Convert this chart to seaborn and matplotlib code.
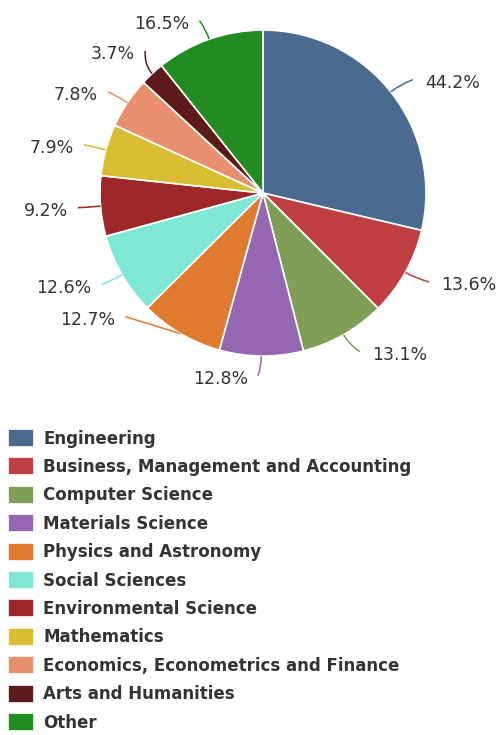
import numpy as np
import matplotlib
matplotlib.use('Agg')
import matplotlib.pyplot as plt
from matplotlib.path import Path
from matplotlib.patches import PathPatch
import seaborn as sns

# subject areas and the share labels shown on the chart
subjects = ['Engineering', 'Business, Management and Accounting', 'Computer Science',
            'Materials Science', 'Physics and Astronomy', 'Social Sciences',
            'Environmental Science', 'Mathematics', 'Economics, Econometrics and Finance',
            'Arts and Humanities', 'Other']
shares = [44.2, 13.6, 13.1, 12.8, 12.7, 12.6, 9.2, 7.9, 7.8, 3.7, 16.5]
colors = ['#4a6b8f', '#c03f40', '#7f9f56', '#9467b0', '#df7a2f', '#7fe8d4',
          '#9e2727', '#dbbd33', '#e8906e', '#5c1a1b', '#228b22']
# small angle shifts (deg) to keep labels apart
nudge = [0, 0, 0, 0, -17, 0, 0, 0, 0, -4, 0]

sns.set_theme(style='white')
plt.rcParams['font.family'] = ['DejaVu Sans']

fig = plt.figure(figsize=(4.99, 7.35), dpi=100)
ax = fig.add_axes([0.2004, 0.5156, 0.6533, 0.4435])
wedges, _ = ax.pie(shares, colors=colors, startangle=90, counterclock=False,
                   wedgeprops=dict(edgecolor='white', linewidth=1.2))
ax.set_xlim(-1, 1)
ax.set_ylim(-1, 1)
ax.axis('off')

for w, s, c, nd in zip(wedges, shares, colors, nudge):
    mid = np.deg2rad((w.theta1 + w.theta2) / 2)
    a = mid + np.deg2rad(nd)
    side = 1 if np.cos(a) > 0 else -1
    p0 = (np.cos(mid), np.sin(mid))
    p1 = (1.07 * np.cos(mid), 1.07 * np.sin(mid))
    p2 = (1.12 * np.cos(a) + side * (0.04 if side > 0 else 0.02), 1.12 * np.sin(a))
    if nd < -10:
        p1 = ((p0[0] + p2[0]) / 2, (p0[1] + p2[1]) / 2)
    path = Path([p0, p1, p2], [Path.MOVETO, Path.CURVE3, Path.CURVE3])
    ax.add_patch(PathPatch(path, fill=False, edgecolor=c, lw=1.1, clip_on=False))
    gap = 0.075 if side > 0 else 0.062
    ax.text(p2[0] + side * gap, p2[1] - 0.02, f'{s}%', ha='left' if side > 0 else 'right',
            va='center', fontsize=12.5, color='#333333', clip_on=False)

fig.legend(wedges, subjects, loc='upper left', bbox_to_anchor=(8 / 499, 1 - 429 / 735),
           frameon=False, prop=dict(weight='bold', size=12), labelcolor='#333333',
           handlelength=1.56, handleheight=1.28, handletextpad=0.55, labelspacing=0.59,
           borderpad=0, borderaxespad=0)

plt.savefig('out.png', dpi=100)
